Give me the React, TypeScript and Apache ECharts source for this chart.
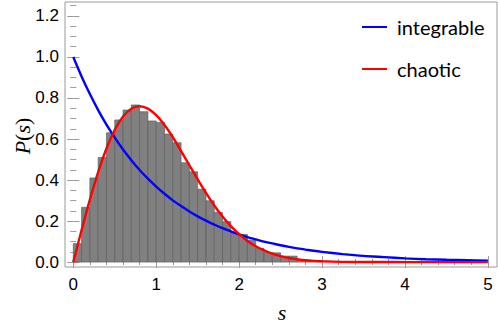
import React, { useEffect, useRef } from "react";
import * as echarts from "echarts";

// Histogram: left edges of bins (width 0.1) and heights
const binWidth = 0.1;
const binStarts = [
  0.0, 0.1, 0.2, 0.3, 0.4, 0.5, 0.6, 0.7, 0.8, 0.9,
  1.0, 1.1, 1.2, 1.3, 1.4, 1.5, 1.6, 1.7, 1.8, 1.9,
  2.0, 2.1, 2.2, 2.3, 2.4, 2.5, 2.6, 2.7, 2.8, 2.9,
];
const binHeights = [
  0.09, 0.267, 0.41, 0.51, 0.63, 0.693, 0.741, 0.766, 0.733, 0.688,
  0.681, 0.624, 0.582, 0.484, 0.44, 0.355, 0.299, 0.242, 0.197, 0.143,
  0.135, 0.107, 0.067, 0.047, 0.045, 0.029, 0.029, 0.012, 0.008, 0.005,
];

// Curves
const curveS = [
  0, 0.1, 0.2, 0.3, 0.4, 0.5, 0.6, 0.7, 0.8, 0.9,
  1.0, 1.1, 1.2, 1.3, 1.4, 1.5, 1.6, 1.7, 1.8, 1.9,
  2.0, 2.1, 2.2, 2.3, 2.4, 2.5, 2.6, 2.7, 2.8, 2.9,
  3.0, 3.25, 3.5, 3.75, 4.0, 4.25, 4.5, 4.75, 5.0,
];
const integrable = [
  1.0, 0.905, 0.819, 0.741, 0.67, 0.607, 0.549, 0.497, 0.449, 0.407,
  0.368, 0.333, 0.301, 0.273, 0.247, 0.223, 0.202, 0.183, 0.165, 0.15,
  0.135, 0.122, 0.111, 0.1, 0.091, 0.082, 0.074, 0.067, 0.061, 0.055,
  0.05, 0.039, 0.03, 0.024, 0.018, 0.014, 0.011, 0.009, 0.007,
];
const chaotic = [
  0, 0.156, 0.305, 0.439, 0.554, 0.645, 0.71, 0.748, 0.76, 0.748,
  0.716, 0.668, 0.609, 0.541, 0.472, 0.403, 0.337, 0.276, 0.222, 0.175,
  0.136, 0.103, 0.077, 0.057, 0.041, 0.029, 0.02, 0.014, 0.009, 0.006,
  0.004, 0.0012, 0.0004, 0.0001, 0, 0, 0, 0, 0,
];

const xMajorTicks = [0, 1, 2, 3, 4, 5];
const xMinorTicks = [
  0.2, 0.4, 0.6, 0.8, 1.2, 1.4, 1.6, 1.8, 2.2, 2.4, 2.6, 2.8,
  3.2, 3.4, 3.6, 3.8, 4.2, 4.4, 4.6, 4.8,
];
const yMajorTicks = [0, 0.2, 0.4, 0.6, 0.8, 1.0, 1.2];
const yMinorTicks = [
  0.05, 0.1, 0.15, 0.25, 0.3, 0.35, 0.45, 0.5, 0.55, 0.65, 0.7, 0.75,
  0.85, 0.9, 0.95, 1.05, 1.1, 1.15, 1.25,
];

const legendItems = [
  { name: "integrable", color: "#0000ff" },
  { name: "chaotic", color: "#ff0000" },
];

const X_MIN = -0.1;
const X_MAX = 5.11;
const Y_MIN = -0.024;
const Y_MAX = 1.268;
const FRAME = "#9a9a9a";
const TICK_FONT = "Liberation Sans";

function makeX(position: "bottom" | "top", major: boolean) {
  return {
    type: "value",
    position,
    min: X_MIN,
    max: X_MAX,
    axisLine: { show: false },
    splitLine: { show: false },
    axisTick: {
      show: true,
      inside: true,
      length: major ? 6 : 3,
      lineStyle: { color: FRAME, width: 1 },
      customValues: major ? xMajorTicks : xMinorTicks,
    },
    axisLabel: {
      show: major && position === "bottom",
      customValues: xMajorTicks,
      formatter: (v: number) => String(Math.round(v)),
      fontFamily: TICK_FONT,
      fontSize: 17,
      color: "#000",
      margin: 9,
    },
  };
}

function makeY(position: "left" | "right", major: boolean) {
  return {
    type: "value",
    position,
    min: Y_MIN,
    max: Y_MAX,
    axisLine: { show: false },
    splitLine: { show: false },
    axisTick: {
      show: true,
      inside: true,
      length: major ? 6 : 3,
      lineStyle: { color: FRAME, width: 1 },
      customValues: major ? yMajorTicks : yMinorTicks,
    },
    axisLabel: {
      show: major && position === "left",
      customValues: yMajorTicks,
      formatter: (v: number) => v.toFixed(1),
      fontFamily: TICK_FONT,
      fontSize: 17,
      color: "#000",
      margin: 6,
    },
  };
}

export default function App() {
  const ref = useRef<HTMLDivElement>(null);
  useEffect(() => {
    if (!ref.current) return;
    const chart = echarts.init(ref.current, null, { renderer: "svg" });
    const histData = binStarts.map((s, i) => [s, binHeights[i]]);
    const option: any = {
      animation: false,
      grid: {
        left: 65,
        right: 1,
        top: 2,
        bottom: 63,
        show: true,
        borderColor: FRAME,
        borderWidth: 1,
        backgroundColor: "transparent",
      },
      xAxis: [
        makeX("bottom", true),
        makeX("bottom", false),
        makeX("top", true),
        makeX("top", false),
      ],
      yAxis: [
        makeY("left", true),
        makeY("left", false),
        makeY("right", true),
        makeY("right", false),
      ],
      series: [
        {
          type: "custom",
          xAxisIndex: 0,
          yAxisIndex: 0,
          data: histData,
          encode: { x: 0, y: 1 },
          clip: true,
          renderItem: (params: any, api: any) => {
            const x0 = api.value(0);
            const h = api.value(1);
            const p0 = api.coord([x0, 0]);
            const p1 = api.coord([x0 + binWidth, h]);
            return {
              type: "rect",
              shape: {
                x: p0[0],
                y: p1[1],
                width: p1[0] - p0[0],
                height: p0[1] - p1[1],
              },
              style: { fill: "#808080", stroke: "#606060", lineWidth: 0.7 },
            };
          },
          z: 1,
        },
        {
          type: "line",
          name: legendItems[0].name,
          xAxisIndex: 0,
          yAxisIndex: 0,
          data: curveS.map((s, i) => [s, integrable[i]]),
          smooth: 0.3,
          showSymbol: false,
          lineStyle: { color: legendItems[0].color, width: 2.4 },
          z: 3,
        },
        {
          type: "line",
          name: legendItems[1].name,
          xAxisIndex: 0,
          yAxisIndex: 0,
          data: curveS.map((s, i) => [s, chaotic[i]]),
          smooth: 0.3,
          showSymbol: false,
          lineStyle: { color: legendItems[1].color, width: 2.4 },
          z: 4,
        },
      ],
      graphic: [
        ...legendItems.flatMap((it, i) => {
          const y = 27 + i * 42;
          return [
            {
              type: "line",
              shape: { x1: 362, y1: y, x2: 387, y2: y },
              style: { stroke: it.color, lineWidth: 2 },
            },
            {
              type: "text",
              x: 397,
              y: y,
              style: {
                text: it.name,
                fontFamily: "Lato",
                fontSize: 20,
                fill: "#000",
                align: "left",
                verticalAlign: "middle",
              },
            },
          ];
        }),
        {
          type: "text",
          x: 22,
          y: 136,
          rotation: Math.PI / 2,
          style: {
            text: "{i|P}{n|(}{i|s}{n|)}",
            align: "center",
            verticalAlign: "middle",
            rich: {
              i: {
                fontFamily: "Liberation Serif",
                fontStyle: "italic",
                fontSize: 22,
                fill: "#000",
              },
              n: {
                fontFamily: "Liberation Serif",
                fontSize: 22,
                fill: "#000",
              },
            },
          },
        },
        {
          type: "text",
          x: 282,
          y: 312,
          style: {
            text: "s",
            fontFamily: "Liberation Serif",
            fontStyle: "italic",
            fontSize: 22,
            fill: "#000",
            align: "center",
            verticalAlign: "middle",
          },
        },
      ],
    };
    chart.setOption(option);
    return () => chart.dispose();
  }, []);
  return <div ref={ref} style={{ width: 498, height: 330, position: "absolute", left: 0, top: 0 }} />;
}
